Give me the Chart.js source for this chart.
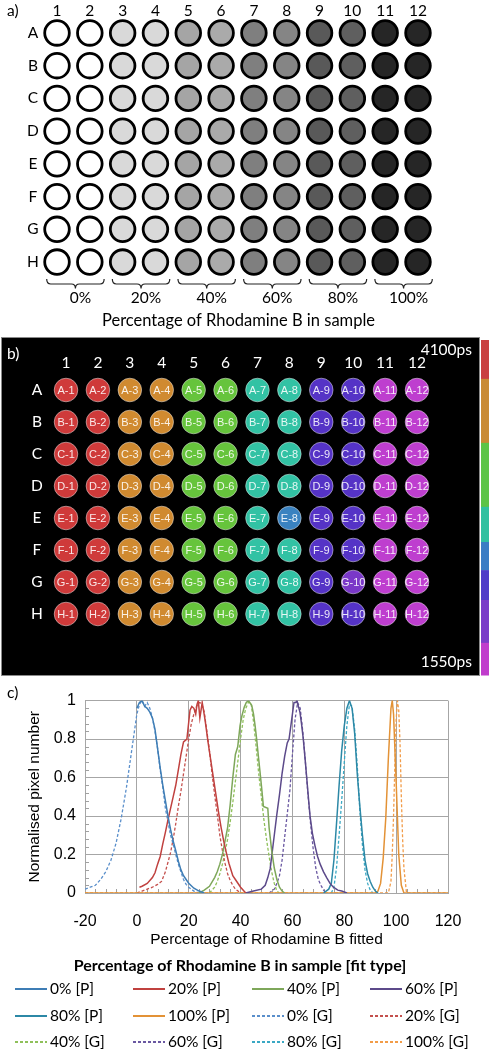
<!DOCTYPE html>
<html>
<head>
<meta charset="utf-8">
<script src="https://cdn.jsdelivr.net/npm/chart.js@4.4.1/dist/chart.umd.min.js"></script>
<style>
  html, body { margin: 0; padding: 0; background: #fff; }
  #page { position: relative; width: 490px; height: 1051px; overflow: hidden; }
  canvas { position: absolute; left: 0; }
  #legendC { position: absolute; left: 0; top: 0; width: 490px; height: 1051px; font-family: Lato, sans-serif; font-size: 15.5px; color: #000; }
  .lg-title { position: absolute; left: 0; width: 480px; top: 954px; text-align: center; font-weight: bold; font-size: 16px; line-height: 22px; }
  .lg-item { position: absolute; height: 20px; line-height: 20px; white-space: nowrap; }
  .lg-line { position: absolute; left: 0; top: 10px; width: 32px; height: 1.5px; }
  .lg-text { position: absolute; left: 35px; top: 0; }
</style>
</head>
<body>
<div id="page">
  <canvas id="plateA" width="490" height="332" style="top:0"></canvas>
  <canvas id="plateB" width="490" height="350" style="top:332px"></canvas>
  <canvas id="histC" width="490" height="273" style="top:682px"></canvas>
  <div id="legendC"></div>
</div>
<script>
// ---------- data ----------
const rowLetters = ['A', 'B', 'C', 'D', 'E', 'F', 'G', 'H'];
const colNumbers = [1, 2, 3, 4, 5, 6, 7, 8, 9, 10, 11, 12];
const sampleGroups = ['0%', '20%', '40%', '60%', '80%', '100%'];
const plateTitle = 'Percentage of Rhodamine B in sample';
const lifetimeMax = '4100ps';
const lifetimeMin = '1550ps';

// histogram curves (x = fitted %, y = normalised pixel number)
const x0P = [0, 1, 2, 3, 4, 5, 6, 7, 8, 9, 10, 11, 12, 13, 14, 15, 16, 17, 18, 19, 20, 22, 24, 26];
const y0P = [0.96, 0.99, 1.0, 0.97, 0.96, 0.94, 0.91, 0.85, 0.75, 0.65, 0.56, 0.48, 0.40, 0.33, 0.27, 0.22, 0.165, 0.12, 0.09, 0.07, 0.05, 0.025, 0.01, 0];
const x20P = [1, 2, 4, 6, 7, 8, 9, 10, 11, 12, 13, 14, 15, 16, 17, 18, 19.3, 20.5, 21.2, 22, 22.7, 23.2, 23.7, 24.3, 25.2, 25.7, 26.3, 27.5, 28.5, 29.5, 30.5, 31.5, 32.5, 33.5, 34.5, 35.5, 37, 38, 40, 42];
const y20P = [0.03, 0.035, 0.05, 0.08, 0.105, 0.15, 0.19, 0.255, 0.315, 0.38, 0.44, 0.50, 0.56, 0.64, 0.72, 0.785, 0.80, 0.95, 0.97, 0.96, 0.93, 0.98, 1.0, 0.91, 0.99, 0.95, 0.90, 0.78, 0.69, 0.60, 0.51, 0.42, 0.34, 0.27, 0.21, 0.155, 0.09, 0.07, 0.03, 0];
const x40P = [24, 26, 28, 30, 31, 32, 33, 34, 35, 36, 37, 38, 38.9, 39.8, 40.5, 41.4, 42.2, 43, 44.3, 45, 45.6, 46.2, 46.8, 47.5, 48.1, 48.8, 50.5, 51, 52, 53, 54, 55, 56, 57];
const y40P = [0, 0.015, 0.035, 0.08, 0.11, 0.15, 0.20, 0.27, 0.34, 0.46, 0.60, 0.72, 0.76, 0.87, 0.92, 0.965, 0.99, 1.0, 0.975, 0.93, 0.87, 0.80, 0.72, 0.63, 0.55, 0.45, 0.44, 0.34, 0.22, 0.13, 0.07, 0.03, 0.01, 0];
const x60P = [42, 45, 48, 49.5, 50.5, 51.4, 52, 53, 54, 55, 56, 57, 58, 58.7, 59.7, 60.6, 61.3, 61.7, 62.3, 62.9, 63.5, 64.2, 65, 65.5, 66.2, 66.8, 67.7, 68.7, 69.7, 70.7, 72, 73.2, 74.5, 75.8, 77.5, 79, 81];
const y60P = [0, 0.01, 0.02, 0.04, 0.08, 0.125, 0.19, 0.30, 0.41, 0.51, 0.62, 0.71, 0.78, 0.80, 0.90, 0.99, 0.99, 1.0, 0.97, 0.94, 0.88, 0.80, 0.68, 0.60, 0.49, 0.40, 0.31, 0.245, 0.19, 0.15, 0.11, 0.08, 0.05, 0.03, 0.015, 0.01, 0];
const x80P = [72, 74, 75, 76, 77, 78, 79, 80, 81, 82, 83, 84, 85, 86, 87, 88, 89, 90, 91, 92, 93];
const y80P = [0, 0.02, 0.05, 0.17, 0.36, 0.56, 0.74, 0.87, 0.96, 1.0, 0.96, 0.83, 0.62, 0.45, 0.30, 0.17, 0.10, 0.06, 0.03, 0.01, 0];
const x100P = [-20, 92, 93, 94, 95, 96, 97, 98, 98.5, 99, 100, 101, 102, 103, 120];
const y100P = [0, 0, 0.01, 0.05, 0.18, 0.39, 0.70, 0.96, 1.0, 0.93, 0.58, 0.20, 0.04, 0, 0];
const x0G = [-20, -18, -16, -14, -12, -10, -8, -6, -4, -2, 0, 1, 2, 3, 4, 5, 6, 7, 8, 9, 10, 11, 12, 13, 14, 15, 16, 17, 18, 19, 20, 22, 24];
const y0G = [0.02, 0.03, 0.04, 0.07, 0.11, 0.17, 0.26, 0.39, 0.55, 0.74, 0.93, 0.98, 1.0, 0.97, 0.99, 0.96, 0.91, 0.84, 0.75, 0.64, 0.55, 0.44, 0.37, 0.30, 0.255, 0.20, 0.15, 0.11, 0.07, 0.045, 0.03, 0.01, 0];
const x20G = [0, 2, 4, 6, 8, 9.5, 11, 12, 13, 14, 15, 16, 17, 18, 19, 20, 21, 22, 23, 24, 25, 26, 27, 28, 29, 30, 31, 32, 33, 34, 35, 36, 37, 38, 39, 40];
const y20G = [0, 0.01, 0.02, 0.03, 0.045, 0.06, 0.11, 0.16, 0.21, 0.28, 0.36, 0.45, 0.53, 0.62, 0.71, 0.80, 0.88, 0.93, 0.97, 0.99, 0.985, 0.94, 0.84, 0.74, 0.62, 0.51, 0.41, 0.30, 0.22, 0.155, 0.10, 0.065, 0.04, 0.02, 0.01, 0];
const x40G = [28, 30, 31, 32, 33, 34, 35, 36, 37, 38, 39, 40, 41, 42, 43, 44, 45, 46, 47, 48, 49, 50, 51, 52, 53, 54, 55];
const y40G = [0, 0.03, 0.06, 0.10, 0.15, 0.21, 0.28, 0.37, 0.47, 0.58, 0.69, 0.80, 0.90, 0.96, 0.99, 0.99, 0.89, 0.76, 0.62, 0.50, 0.38, 0.28, 0.19, 0.11, 0.05, 0.01, 0];
const x60G = [51, 53, 54, 55, 56, 57, 58, 59, 60, 61, 62, 63, 64, 65, 66, 67, 68, 69, 70, 71, 72, 73];
const y60G = [0, 0.02, 0.05, 0.09, 0.17, 0.29, 0.41, 0.53, 0.72, 0.90, 0.99, 0.96, 0.84, 0.68, 0.51, 0.36, 0.23, 0.13, 0.07, 0.04, 0.015, 0];
const x80G = [75, 76, 77, 78, 79, 80, 81, 82, 83, 84, 85, 86, 87, 88, 89, 90, 91];
const y80G = [0, 0.03, 0.13, 0.30, 0.48, 0.68, 0.87, 0.98, 0.97, 0.85, 0.66, 0.43, 0.25, 0.12, 0.05, 0.015, 0];
const x100G = [-20, 97, 98, 98.5, 99, 99.5, 100, 100.5, 101, 101.5, 102, 102.5, 103, 104, 120];
const y100G = [0, 0, 0.06, 0.20, 0.40, 0.66, 0.90, 1.0, 0.95, 0.78, 0.50, 0.28, 0.13, 0, 0];

const xTickValues = [-20, 0, 20, 40, 60, 80, 100, 120];
const yTickValues = [0, 0.2, 0.4, 0.6, 0.8, 1];

// ---------- styles ----------
const grayShade = ['#ffffff', '#ffffff', '#d9d9d9', '#d9d9d9', '#a5a5a5', '#aaaaaa', '#7f7f7f', '#858585', '#595959', '#5f5f5f', '#262626', '#262626'];
const wellColor = ['#cf3a3a', '#cf3a3a', '#d08a30', '#d08a30', '#66c43c', '#66c43c', '#32c2a4', '#32c2a4', '#5533c6', '#5533c6', '#be3ecf', '#be3ecf'];
const wellOddColor = { 'E-8': '#3a82c0', 'G-10': '#7a38c8' };
const colorbarBands = [
  ['#c94040', 0.000], ['#c98a34', 0.116], ['#5cc447', 0.307], ['#30c0a0', 0.498],
  ['#3a7cc4', 0.603], ['#4f3cc8', 0.687], ['#7a3cc8', 0.776], ['#c03ccc', 0.904]
];
const calibri = 'Lato, "Open Sans", sans-serif';
const arial = '"Liberation Sans", Arial, sans-serif';

// ---------- panel a ----------
const plateALabels = {
  id: 'plateALabels',
  afterDraw(chart) {
    const { ctx, scales: { x, y } } = chart;
    ctx.save();
    ctx.fillStyle = '#000';
    ctx.font = '15.5px ' + calibri;
    ctx.textBaseline = 'middle';
    ctx.textAlign = 'left';
    ctx.fillText('a)', 7, 11);
    ctx.textAlign = 'center';
    colNumbers.forEach(c => ctx.fillText(String(c), x.getPixelForValue(c), 10.5));
    rowLetters.forEach((r, j) => ctx.fillText(r, 33, y.getPixelForValue(j + 1)));
    // brackets under each pair of columns
    ctx.strokeStyle = '#222';
    ctx.lineWidth = 1.2;
    sampleGroups.forEach((g, k) => {
      const x0 = x.getPixelForValue(2 * k + 1) - 10.3;
      const x1 = x.getPixelForValue(2 * k + 2) + 14.3;
      const mid = (x0 + x1) / 2;
      ctx.beginPath();
      ctx.moveTo(x0, 279);
      ctx.quadraticCurveTo(x0, 284, x0 + 4, 284);
      ctx.lineTo(mid - 4, 284);
      ctx.quadraticCurveTo(mid, 284, mid, 288.5);
      ctx.quadraticCurveTo(mid, 284, mid + 4, 284);
      ctx.lineTo(x1 - 4, 284);
      ctx.quadraticCurveTo(x1, 284, x1, 279);
      ctx.stroke();
      ctx.fillText(g, mid + 5, 298);
    });
    ctx.font = '16.5px ' + calibri;
    ctx.fillText(plateTitle, 238.5, 320.5);
    ctx.restore();
  }
};

new Chart(document.getElementById('plateA'), {
  type: 'scatter',
  data: {
    datasets: colNumbers.map((c, i) => ({
      data: rowLetters.map((r, j) => ({ x: c, y: j + 1 })),
      pointRadius: 12.3,
      pointHoverRadius: 12.3,
      pointBorderWidth: 2.8,
      pointBorderColor: '#000',
      pointBackgroundColor: grayShade[i]
    }))
  },
  options: {
    responsive: false,
    animation: false,
    events: [],
    layout: { padding: { left: 40.6, right: 55.6, top: 16.6, bottom: 53.6 } },
    scales: {
      x: { type: 'linear', min: 0.5, max: 12.5, display: false },
      y: { type: 'linear', min: 0.5, max: 8.5, reverse: true, display: false }
    },
    plugins: { legend: { display: false }, tooltip: { enabled: false } }
  },
  plugins: [plateALabels]
});

// ---------- panel b ----------
const plateBDecor = {
  id: 'plateBDecor',
  beforeDraw(chart) {
    const { ctx } = chart;
    ctx.save();
    ctx.fillStyle = '#000';
    ctx.fillRect(2, 6, 477, 337);
    ctx.strokeStyle = '#8a8a8a';
    ctx.lineWidth = 1;
    ctx.strokeRect(1.5, 5.5, 478, 338);
    // lifetime colour bar
    const top = 8, h = 335;
    colorbarBands.forEach(([col, f], i) => {
      const next = i + 1 < colorbarBands.length ? colorbarBands[i + 1][1] : 1;
      ctx.fillStyle = col;
      ctx.fillRect(481, top + f * h, 8, (next - f) * h + 0.5);
    });
    ctx.restore();
  },
  afterDraw(chart) {
    const { ctx, scales: { x, y } } = chart;
    ctx.save();
    ctx.fillStyle = '#fff';
    ctx.font = '15.5px ' + calibri;
    ctx.textBaseline = 'middle';
    ctx.textAlign = 'left';
    ctx.fillText('b)', 7, 22);
    ctx.textAlign = 'center';
    colNumbers.forEach(c => ctx.fillText(String(c), x.getPixelForValue(c), 31));
    rowLetters.forEach((r, j) => ctx.fillText(r, 37, y.getPixelForValue(j + 1)));
    ctx.textAlign = 'right';
    ctx.fillText(lifetimeMax, 472, 18);
    ctx.fillText(lifetimeMin, 472, 330);
    // well names
    ctx.font = '11px ' + arial;
    ctx.textAlign = 'center';
    ctx.fillStyle = 'rgba(255,255,255,0.88)';
    rowLetters.forEach((r, j) => colNumbers.forEach(c => {
      ctx.fillText(r + '-' + c, x.getPixelForValue(c), y.getPixelForValue(j + 1) + 0.5);
    }));
    ctx.restore();
  }
};

new Chart(document.getElementById('plateB'), {
  type: 'scatter',
  data: {
    datasets: colNumbers.map((c, i) => ({
      data: rowLetters.map((r, j) => ({ x: c, y: j + 1 })),
      pointRadius: 11.8,
      pointHoverRadius: 11.8,
      pointBorderWidth: 1,
      pointBorderColor: 'rgba(255,255,255,0.45)',
      pointBackgroundColor: rowLetters.map(r => wellOddColor[r + '-' + c] || wellColor[i])
    }))
  },
  options: {
    responsive: false,
    animation: false,
    events: [],
    layout: { padding: { left: 50.05, right: 57.05, top: 42, bottom: 52 } },
    scales: {
      x: { type: 'linear', min: 0.5, max: 12.5, display: false },
      y: { type: 'linear', min: 0.5, max: 8.5, reverse: true, display: false }
    },
    plugins: { legend: { display: false }, tooltip: { enabled: false } }
  },
  plugins: [plateBDecor]
});

// ---------- panel c ----------
const seriesC = [
  { label: '0% [P]', x: x0P, y: y0P, color: '#3e7db5', dash: [] },
  { label: '20% [P]', x: x20P, y: y20P, color: '#c0413f', dash: [] },
  { label: '40% [P]', x: x40P, y: y40P, color: '#7ea75a', dash: [] },
  { label: '60% [P]', x: x60P, y: y60P, color: '#5c4a8a', dash: [] },
  { label: '80% [P]', x: x80P, y: y80P, color: '#2c88a6', dash: [] },
  { label: '100% [P]', x: x100P, y: y100P, color: '#e39236', dash: [] },
  { label: '0% [G]', x: x0G, y: y0G, color: '#5a8fcb', dash: [3, 2] },
  { label: '20% [G]', x: x20G, y: y20G, color: '#c4504d', dash: [3, 2] },
  { label: '40% [G]', x: x40G, y: y40G, color: '#8fc05a', dash: [3, 2] },
  { label: '60% [G]', x: x60G, y: y60G, color: '#6a58a2', dash: [3, 2] },
  { label: '80% [G]', x: x80G, y: y80G, color: '#3aa8c4', dash: [3, 2] },
  { label: '100% [G]', x: x100G, y: y100G, color: '#f29c48', dash: [3, 2] }
];

const minorTicks = {
  id: 'minorTicks',
  beforeDatasetsDraw(chart) {
    const { ctx, chartArea: a, scales: { x, y } } = chart;
    ctx.save();
    ctx.strokeStyle = '#a0a0a0';
    ctx.lineWidth = 1;
    ctx.beginPath();
    for (let i = 0; i < yTickValues.length - 1; i++) {
      const step = (yTickValues[i + 1] - yTickValues[i]) / 5;
      for (let k = 1; k < 5; k++) {
        const py = Math.round(y.getPixelForValue(yTickValues[i] + k * step)) + 0.5;
        ctx.moveTo(a.left, py); ctx.lineTo(a.left + 4, py);
      }
    }
    for (let i = 0; i < xTickValues.length - 1; i++) {
      const step = (xTickValues[i + 1] - xTickValues[i]) / 5;
      for (let k = 1; k < 5; k++) {
        const px = Math.round(x.getPixelForValue(xTickValues[i] + k * step)) + 0.5;
        ctx.moveTo(px, a.bottom); ctx.lineTo(px, a.bottom - 4);
      }
    }
    ctx.stroke();
    ctx.restore();
  },
  afterDraw(chart) {
    const { ctx } = chart;
    ctx.save();
    ctx.fillStyle = '#000';
    ctx.font = '15.5px ' + calibri;
    ctx.textBaseline = 'middle';
    ctx.fillText('c)', 7, 11);
    ctx.restore();
  }
};

const chartC = new Chart(document.getElementById('histC'), {
  type: 'line',
  data: {
    datasets: seriesC.map(s => ({
      label: s.label,
      data: s.x.map((v, i) => ({ x: v, y: s.y[i] })),
      borderColor: s.color,
      backgroundColor: s.color,
      borderWidth: s.dash.length ? 1.3 : 1.5,
      borderDash: s.dash,
      pointRadius: 0,
      tension: 0,
      fill: false
    }))
  },
  options: {
    responsive: false,
    animation: false,
    events: [],
    layout: { padding: { left: 0, right: 42, top: 10, bottom: 0 } },
    scales: {
      x: {
        type: 'linear', min: -20, max: 120,
        afterFit: s => { s.height = 62; },
        afterBuildTicks: s => { s.ticks = xTickValues.map(v => ({ value: v })); },
        grid: { color: '#a6a6a6', drawTicks: false },
        border: { color: '#a6a6a6' },
        ticks: { padding: 19, color: '#000', font: { family: arial, size: 16 }, callback: v => String(v) },
        title: { display: true, text: 'Percentage of Rhodamine B fitted', color: '#000', font: { family: arial, size: 15.5 }, padding: { top: 0, bottom: 6 } }
      },
      y: {
        type: 'linear', min: 0, max: 1,
        afterFit: s => { s.width = 85; },
        afterBuildTicks: s => { s.ticks = yTickValues.map(v => ({ value: v })); },
        grid: { color: '#a6a6a6', drawTicks: false },
        border: { color: '#a6a6a6' },
        ticks: { padding: 9, color: '#000', font: { family: arial, size: 16 }, callback: v => String(v) },
        title: { display: true, text: 'Normalised pixel number', color: '#000', font: { family: arial, size: 15.5 }, padding: { top: 25, bottom: 0 } }
      }
    },
    plugins: { legend: { display: false }, tooltip: { enabled: false } }
  },
  plugins: [minorTicks]
});

// HTML legend built from the chart's datasets (4 columns)
const legendBox = document.getElementById('legendC');
const title = document.createElement('div');
title.className = 'lg-title';
title.textContent = 'Percentage of Rhodamine B in sample [fit type]';
legendBox.appendChild(title);
const legendCols = [15, 133, 252, 370];
const legendRows = [978, 1005, 1031];
chartC.data.datasets.forEach((ds, i) => {
  const item = document.createElement('div');
  item.className = 'lg-item';
  item.style.left = legendCols[i % 4] + 'px';
  item.style.top = legendRows[Math.floor(i / 4)] + 'px';
  const line = document.createElement('span');
  line.className = 'lg-line';
  const col = seriesC[i].color;
  line.style.background = seriesC[i].dash.length
    ? 'repeating-linear-gradient(90deg, ' + col + ' 0 3px, transparent 3px 5px)'
    : col;
  const txt = document.createElement('span');
  txt.className = 'lg-text';
  txt.textContent = ds.label;
  item.appendChild(line);
  item.appendChild(txt);
  legendBox.appendChild(item);
});
</script>
</body>
</html>
